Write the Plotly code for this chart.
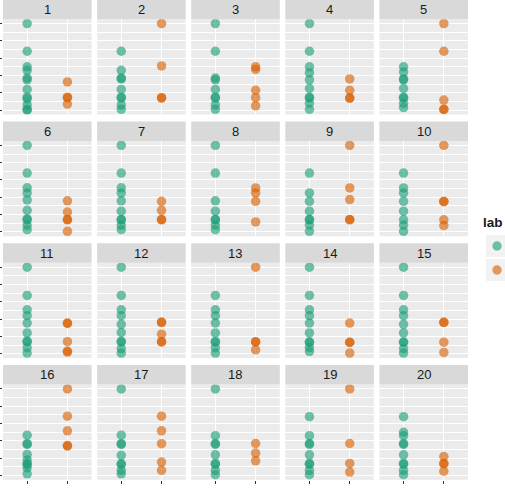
import plotly.graph_objects as go

W, H = 505, 489

panel_ids = [str(i) for i in range(1, 21)]
groups = ["FALSE", "TRUE"]
legend_title = "lab"

teal_vals = [
    [5, 3.4, 2.5, 2.3, 1.85, 1.75, 1.2, 0.75, 0.65, 0.3, 0.05, 0.0],
    [3.4, 2.3, 1.85, 1.8, 1.2, 0.75, 0.7, 0.3, 0.05],
    [5, 3.4, 1.85, 1.75, 1.2, 0.75, 0.7, 0.3, 0.05],
    [5, 3.4, 2.5, 2.15, 1.75, 1.25, 0.75, 0.7, 0.4, 0.05],
    [2.5, 2.2, 1.8, 1.75, 1.25, 0.75, 0.7, 0.4, 0.15],
    [5, 3.4, 2.55, 2.25, 1.85, 1.25, 0.75, 0.7, 0.4, 0.13],
    [5, 3.4, 2.55, 2.25, 1.8, 1.2, 0.72, 0.7, 0.4, 0.13],
    [5, 3.4, 1.8, 1.2, 0.72, 0.7, 0.4, 0.13],
    [3.4, 2.25, 1.77, 1.2, 0.72, 0.7, 0.4, 0.04],
    [3.4, 2.54, 2.25, 1.77, 1.2, 0.7, 0.4, 0.04],
    [5, 3.37, 2.54, 2.2, 1.77, 1.2, 0.72, 0.7, 0.35, 0.04],
    [5, 3.37, 2.54, 2.2, 1.7, 1.23, 0.72, 0.68, 0.3, 0.04],
    [3.37, 2.54, 2.2, 1.77, 1.2, 0.7, 0.68, 0.35, 0.04],
    [5, 3.37, 2.54, 2.2, 1.77, 1.2, 0.68, 0.66, 0.35, 0.13],
    [5, 3.37, 2.54, 2.2, 1.7, 1.2, 0.68, 0.66, 0.3, 0.04],
    [2.33, 1.84, 1.8, 1.22, 0.9, 0.68, 0.65, 0.45, 0.1],
    [5, 2.33, 1.84, 1.8, 1.17, 0.68, 0.65, 0.3, 0.1],
    [5, 2.3, 1.85, 1.8, 1.2, 0.7, 0.65, 0.3, 0.05],
    [3.4, 2.3, 1.85, 1.8, 1.2, 0.7, 0.65, 0.3, 0.05],
    [3.4, 2.5, 2.3, 1.85, 1.8, 1.2, 0.7, 0.65, 0.3, 0.05],
]

orange_vals = [
    [1.63, 0.75, 0.72, 0.35],
    [5, 2.55, 0.72, 0.7],
    [2.5, 2.35, 1.15, 0.72, 0.25],
    [1.8, 1.15, 0.7, 0.7],
    [5, 3.4, 0.58, 0.05, 0.04],
    [1.8, 1.15, 0.72, 0.7, 0.04],
    [1.77, 1.25, 0.72, 0.7],
    [2.54, 2.25, 1.77, 0.58],
    [5, 2.54, 1.87, 0.72, 0.7],
    [5, 1.77, 1.75, 0.7, 0.37],
    [1.77, 1.75, 0.7, 0.15, 0.1],
    [1.83, 1.8, 1.13, 0.7, 0.68],
    [5, 0.7, 0.68, 0.23],
    [1.77, 0.67, 0.65, 0.04],
    [1.83, 1.8, 0.67, 0.08],
    [5, 3.43, 2.58, 1.74, 1.7],
    [3.43, 2.58, 1.84, 0.78, 0.3],
    [1.85, 1.3, 0.85],
    [5, 1.85, 0.7, 0.2],
    [1.1, 0.7, 0.68, 0.25],
]

TEAL = "rgba(27,158,119,0.62)"
ORANGE = "rgba(217,95,2,0.62)"

# layout geometry (pixels)
col_left0, col_w, col_step = 3.0, 88.6, 94.1
row_top0, row_h, row_step = 19.2, 95.3, 121.8
strip_h = 19.5


def px_x(v):
    return v / W


def px_y(v):
    return 1 - v / H


fig = go.Figure()
shapes = []
annotations = []

for i in range(20):
    r, c = divmod(i, 5)
    n = "" if i == 0 else str(i + 1)
    x0 = col_left0 + c * col_step
    x1 = x0 + col_w
    y0 = row_top0 + r * row_step
    y1 = y0 + row_h
    xa = "x" + n
    ya = "y" + n
    fig.add_trace(go.Scatter(
        x=[groups[0]] * len(teal_vals[i]), y=teal_vals[i], xaxis=xa, yaxis=ya,
        mode="markers", marker=dict(color=TEAL, size=9.5, line=dict(width=0)),
        showlegend=False, hoverinfo="skip"))
    fig.add_trace(go.Scatter(
        x=[groups[1]] * len(orange_vals[i]), y=orange_vals[i], xaxis=xa, yaxis=ya,
        mode="markers", marker=dict(color=ORANGE, size=9.5, line=dict(width=0)),
        showlegend=False, hoverinfo="skip"))
    fig.layout["xaxis" + n] = dict(
        domain=[px_x(x0), px_x(x1)], anchor=ya, type="category",
        categoryorder="array", categoryarray=groups, range=[-0.6, 1.6],
        showgrid=True, gridcolor="white", gridwidth=1.1, zeroline=False,
        showline=False, showticklabels=False,
        ticks="outside" if r == 3 else "", ticklen=3.5, tickcolor="#333333",
        tickwidth=1, fixedrange=True)
    fig.layout["yaxis" + n] = dict(
        domain=[px_y(y1), px_y(y0)], anchor=xa, range=[-0.25, 5.25],
        tickmode="linear", tick0=0, dtick=1,
        showgrid=True, gridcolor="white", gridwidth=1.1, zeroline=False,
        minor=dict(tickmode="linear", tick0=0.5, dtick=1, showgrid=True,
                   gridcolor="white", gridwidth=0.5),
        showline=False, showticklabels=False,
        ticks="outside" if c == 0 else "", ticklen=3, tickcolor="#333333",
        tickwidth=1, fixedrange=True)
    # strip
    shapes.append(dict(type="rect", xref="paper", yref="paper",
                       x0=px_x(x0), x1=px_x(x1), y0=px_y(y0), y1=px_y(y0 - strip_h),
                       fillcolor="#D9D9D9", line=dict(width=0), layer="below"))
    annotations.append(dict(text=panel_ids[i], xref="paper", yref="paper",
                            x=px_x((x0 + x1) / 2), y=px_y(y0 - strip_h / 2),
                            xanchor="center", yanchor="middle", showarrow=False,
                            font=dict(family="Liberation Sans", size=13, color="#1A1A1A")))

# legend (manual; only the visible part of the title, as in the reference)
annotations.append(dict(text="<b>" + legend_title + "</b>", xref="paper", yref="paper",
                        x=px_x(504.5), y=px_y(222), xanchor="right", yanchor="middle",
                        showarrow=False,
                        font=dict(family="Liberation Sans", size=13.5, color="#1A1A1A")))
for k, (col, cy) in enumerate([(TEAL, 246), (ORANGE, 270)]):
    shapes.append(dict(type="rect", xref="paper", yref="paper",
                       x0=px_x(486), x1=px_x(508), y0=px_y(cy + 11), y1=px_y(cy - 11),
                       fillcolor="#F2F2F2", line=dict(width=0)))
    shapes.append(dict(type="circle", xref="paper", yref="paper",
                       x0=px_x(497 - 4.7), x1=px_x(497 + 4.7),
                       y0=px_y(cy + 4.7), y1=px_y(cy - 4.7),
                       fillcolor=col, line=dict(width=0)))

fig.update_layout(
    width=W, height=H, margin=dict(l=0, r=0, t=0, b=0),
    paper_bgcolor="white", plot_bgcolor="#EBEBEB",
    shapes=shapes, annotations=annotations, showlegend=False,
    font=dict(family="Liberation Sans"),
)

fig.write_html("out.html")
